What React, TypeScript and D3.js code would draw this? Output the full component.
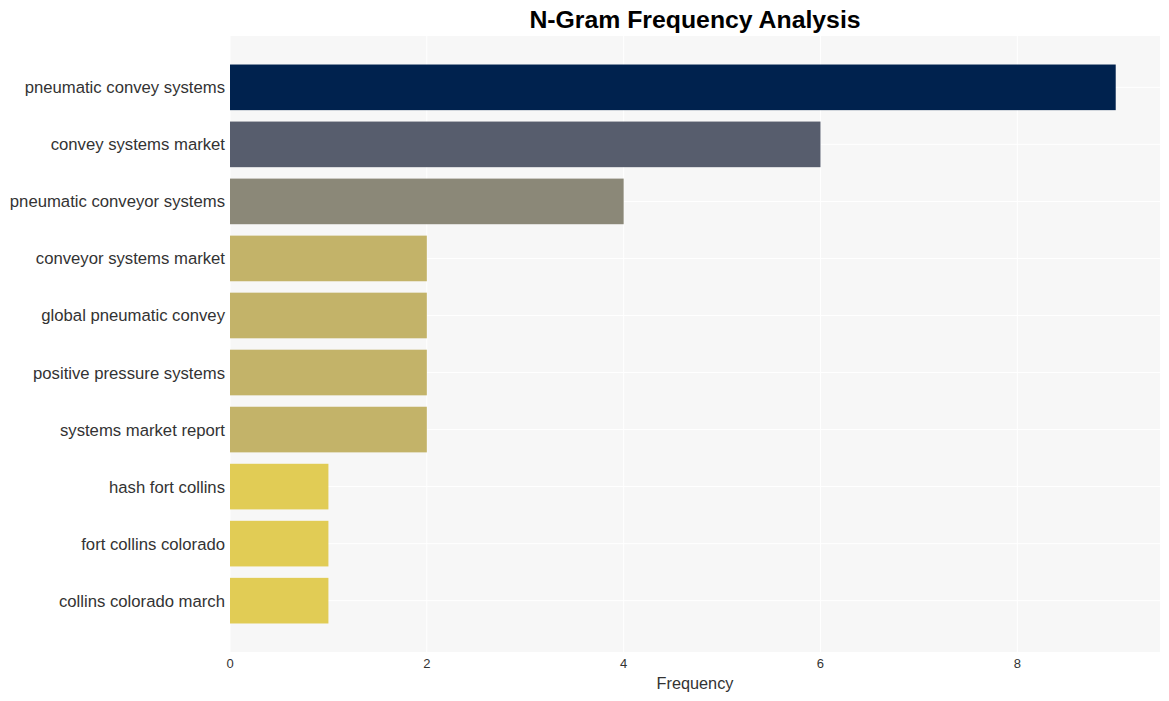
import { useMemo } from "react";
import { scaleBand, scaleLinear } from "d3";

const totalWidth = 1169;
const totalHeight = 701;
const plotLeft = 230;
const plotRight = 1160;
const plotTop = 36;
const plotBottom = 652;
const fontFamily = "Liberation Sans, Arial, sans-serif";

const ngrams = [
  "pneumatic convey systems",
  "convey systems market",
  "pneumatic conveyor systems",
  "conveyor systems market",
  "global pneumatic convey",
  "positive pressure systems",
  "systems market report",
  "hash fort collins",
  "fort collins colorado",
  "collins colorado march",
];
const counts = [9, 6, 4, 2, 2, 2, 2, 1, 1, 1];
const barColors = [
  "#00224e",
  "#575d6d",
  "#8b8878",
  "#c3b369",
  "#c3b369",
  "#c3b369",
  "#c3b369",
  "#e1cc55",
  "#e1cc55",
  "#e1cc55",
];
const xTicks = [0, 2, 4, 6, 8];

export default function App() {
  const { xScale, yScale } = useMemo(() => {
    const maxCount = Math.max(...counts);
    const xScale = scaleLinear()
      .domain([0, maxCount * 1.05])
      .range([plotLeft, plotRight]);
    const yScale = scaleBand<string>()
      .domain(ngrams)
      .range([plotTop, plotBottom])
      .paddingInner(0.2)
      .paddingOuter(0.5);
    return { xScale, yScale };
  }, []);

  const bw = yScale.bandwidth();

  return (
    <svg
      width={totalWidth}
      height={totalHeight}
      viewBox={`0 0 ${totalWidth} ${totalHeight}`}
      style={{ display: "block", position: "absolute", left: 0, top: 0 }}
      fontFamily={fontFamily}
    >
      <rect width={totalWidth} height={totalHeight} fill="white" />
      <rect
        x={plotLeft}
        y={plotTop}
        width={plotRight - plotLeft}
        height={plotBottom - plotTop}
        fill="#f7f7f7"
      />
      {xTicks.map((t) => (
        <line
          key={`gx-${t}`}
          x1={xScale(t)}
          x2={xScale(t)}
          y1={plotTop}
          y2={plotBottom}
          stroke="white"
          strokeWidth={1}
        />
      ))}
      {ngrams.map((n) => (
        <line
          key={`gy-${n}`}
          x1={plotLeft}
          x2={plotRight}
          y1={(yScale(n) ?? 0) + bw / 2}
          y2={(yScale(n) ?? 0) + bw / 2}
          stroke="white"
          strokeWidth={1}
        />
      ))}
      {ngrams.map((n, i) => (
        <rect
          key={`bar-${n}`}
          x={xScale(0)}
          y={yScale(n)}
          width={xScale(counts[i]) - xScale(0)}
          height={bw}
          fill={barColors[i]}
        />
      ))}
      {ngrams.map((n) => (
        <text
          key={`lab-${n}`}
          x={plotLeft - 5}
          y={(yScale(n) ?? 0) + bw / 2}
          dy="0.36em"
          textAnchor="end"
          fontSize={16.7}
          fill="#333"
        >
          {n}
        </text>
      ))}
      {xTicks.map((t) => (
        <text
          key={`tx-${t}`}
          x={xScale(t)}
          y={plotBottom + 16}
          textAnchor="middle"
          fontSize={13}
          fill="#333"
        >
          {t}
        </text>
      ))}
      <text
        x={(plotLeft + plotRight) / 2}
        y={689}
        textAnchor="middle"
        fontSize={16.3}
        fill="#333"
      >
        Frequency
      </text>
      <text
        x={(plotLeft + plotRight) / 2}
        y={28}
        textAnchor="middle"
        fontSize={24.8}
        fontWeight="bold"
        fill="black"
      >
        N-Gram Frequency Analysis
      </text>
    </svg>
  );
}
